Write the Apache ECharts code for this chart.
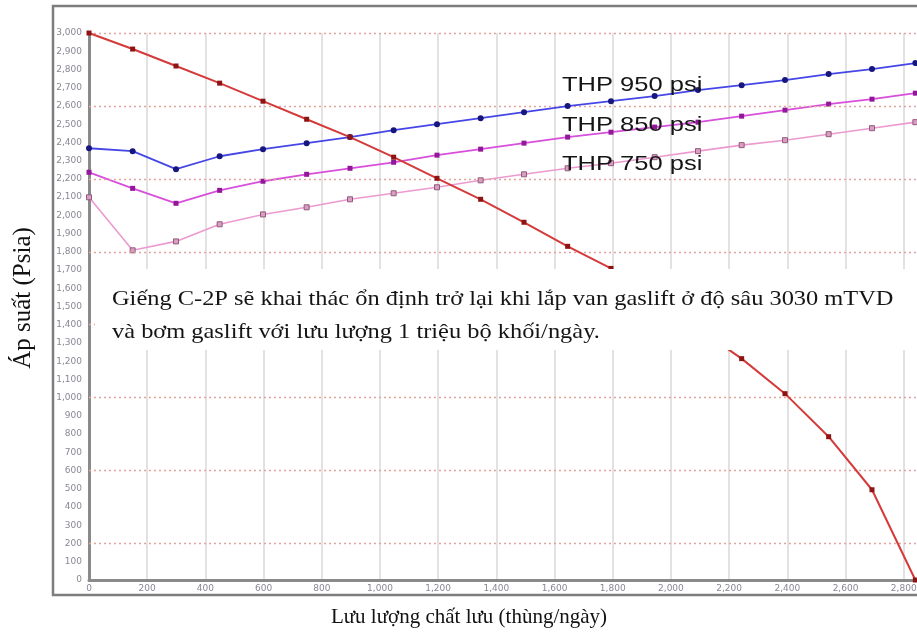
<!DOCTYPE html>
<html>
<head>
<meta charset="utf-8">
<script src="https://cdn.jsdelivr.net/npm/echarts@6/dist/echarts.min.js"></script>
<style>
  html, body { margin: 0; padding: 0; background: #ffffff; }
  #chart { width: 917px; height: 635px; }
</style>
</head>
<body>
<div id="chart"></div>
<script>
// Flow rates (bbl/day) at which the tubing curves were evaluated
const thpRates = [0, 150, 299, 449, 598, 748, 897, 1047, 1196, 1346, 1495, 1645, 1794, 1944, 2093, 2243, 2392, 2542, 2691, 2840];
// Tubing performance, bottom-hole pressure (psia) for each wellhead pressure
const thp950 = [2368, 2352, 2253, 2324, 2363, 2396, 2429, 2467, 2500, 2533, 2566, 2599, 2626, 2654, 2687, 2714, 2742, 2775, 2802, 2835];
const thp850 = [2236, 2148, 2066, 2137, 2187, 2225, 2258, 2291, 2330, 2363, 2396, 2429, 2456, 2484, 2511, 2544, 2577, 2610, 2637, 2670];
const thp750 = [2099, 1808, 1857, 1951, 2005, 2044, 2088, 2121, 2154, 2192, 2225, 2258, 2286, 2319, 2352, 2385, 2412, 2445, 2478, 2511];
// Inflow performance (IPR)
const iprRates = [0, 150, 299, 449, 598, 748, 897, 1047, 1196, 1346, 1495, 1645, 1794, 2243, 2392, 2542, 2691, 2840];
const iprPressure = [3000, 2912, 2819, 2725, 2626, 2527, 2429, 2319, 2203, 2088, 1962, 1830, 1709, 1214, 1022, 786, 495, 0];
// Pressure levels marked with dashed reference lines
const dashedLevels = [200, 600, 1000, 1400, 1800, 2200, 2600, 3000];
// Texts
const curveNames = ['THP 950 psi', 'THP 850 psi', 'THP 750 psi'];
const noteLines = [
  'Giếng C-2P sẽ khai thác ổn định trở lại khi lắp van gaslift ở độ sâu 3030 mTVD',
  'và bơm gaslift với lưu lượng 1 triệu bộ khối/ngày.'
];
const xTitle = 'Lưu lượng chất lưu (thùng/ngày)';
const yTitle = 'Áp suất (Psia)';

const pair = (xs, ys) => xs.map((x, i) => [x, ys[i]]);
const fmt = v => Number(v).toLocaleString('en-US');

const chart = echarts.init(document.getElementById('chart'), null, { renderer: 'canvas' });

const tickLabel = { fontSize: 9, color: '#8a8794', fontFamily: 'DejaVu Sans' };

// annotation text, drawn slightly wide
const wideText = (text, x, y, font, sx) => ({
  type: 'text', z: 61, x: x, y: y, scaleX: sx, scaleY: 1, originX: 0, originY: 0,
  style: { text: text, font: font, fill: '#151515', verticalAlign: 'top', align: 'left' }
});

chart.setOption({
  animation: false,
  backgroundColor: '#ffffff',
  grid: { left: 89, top: 33, right: -10, bottom: 55, containLabel: false, outerBoundsMode: 'none' },
  xAxis: {
    type: 'value', min: 0, max: 2880, interval: 200,
    axisLine: { show: true, lineStyle: { color: '#8a8a8a', width: 3 } },
    axisTick: { show: false },
    axisLabel: Object.assign({ margin: 4, formatter: v => (v % 200 === 0 ? fmt(v) : '') }, tickLabel),
    splitLine: { show: true, lineStyle: { color: '#d9d9d9', width: 1.5 } }
  },
  yAxis: {
    type: 'value', min: 0, max: 3000, interval: 100,
    axisLine: { show: true, lineStyle: { color: '#8a8a8a', width: 3 } },
    axisTick: { show: false },
    axisLabel: Object.assign({ margin: 7, formatter: v => fmt(v) }, tickLabel),
    splitLine: { show: false }
  },
  series: [
    {
      type: 'line', data: [], silent: true, z: 1,
      markLine: {
        silent: true, symbol: ['none', 'none'], label: { show: false },
        lineStyle: { color: '#e3a39c', type: [2, 3], width: 1.3 },
        data: dashedLevels.map(v => ({ yAxis: v }))
      }
    },
    {
      name: curveNames[2], type: 'line', data: pair(thpRates, thp750), z: 3,
      lineStyle: { color: '#ec9ad0', width: 1.6 },
      symbol: 'rect', symbolSize: 5,
      itemStyle: { color: '#d7a0c2', borderColor: '#94587c', borderWidth: 1 }
    },
    {
      name: curveNames[1], type: 'line', data: pair(thpRates, thp850), z: 4,
      lineStyle: { color: '#d84fdc', width: 1.8 },
      symbol: 'rect', symbolSize: 5,
      itemStyle: { color: '#93179a' }
    },
    {
      name: curveNames[0], type: 'line', data: pair(thpRates, thp950), z: 5,
      lineStyle: { color: '#4646e6', width: 1.8 },
      symbol: 'circle', symbolSize: 6,
      itemStyle: { color: '#16167e' }
    },
    {
      name: 'IPR', type: 'line', data: pair(iprRates, iprPressure), z: 6,
      lineStyle: { color: '#d43a3a', width: 2 },
      symbol: 'rect', symbolSize: 5,
      itemStyle: { color: '#8e1414' }
    }
  ],
  graphic: [
    // outer frame
    { type: 'rect', z: 50, silent: true,
      shape: { x: 53, y: 6, width: 900, height: 589 },
      style: { fill: 'none', stroke: '#7d7d7d', lineWidth: 2.5 } },
    // note box
    { type: 'rect', z: 60, silent: true,
      shape: { x: 95, y: 269, width: 840, height: 81 },
      style: { fill: '#ffffff' } },
    wideText(noteLines[0], 112, 289, '21px "Liberation Serif"', 1.162),
    wideText(noteLines[1], 112, 322, '21px "Liberation Serif"', 1.162),
    // curve labels
    wideText(curveNames[0], 562, 75, '21px "Liberation Sans"', 1.215),
    wideText(curveNames[1], 562, 115, '21px "Liberation Sans"', 1.215),
    wideText(curveNames[2], 562, 154, '21px "Liberation Sans"', 1.215),
    // axis titles
    { type: 'text', z: 61, x: 469, y: 617,
      style: { text: xTitle, font: '21px "Liberation Serif"', fill: '#111111', align: 'center', verticalAlign: 'middle' } },
    { type: 'text', z: 61, x: 23, y: 298, rotation: Math.PI / 2,
      style: { text: yTitle, font: '25px "Liberation Serif"', fill: '#111111', align: 'center', verticalAlign: 'middle' } }
  ]
});
</script>
</body>
</html>
